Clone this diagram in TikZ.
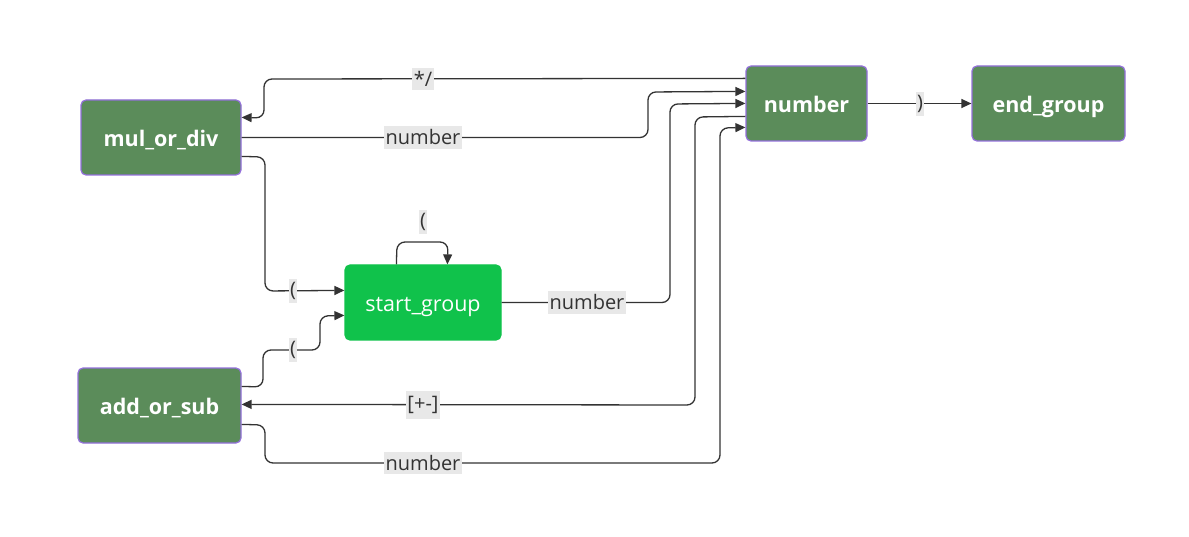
\documentclass[tikz,border=0pt]{standalone}
\usepackage{fontspec}
\setmainfont{Open Sans}
\usetikzlibrary{arrows.meta,calc}
\definecolor{nodefill}{HTML}{5B8C5A}
\definecolor{nodeborder}{HTML}{9370DB}
\definecolor{startfill}{HTML}{10C24B}
\definecolor{edgecol}{HTML}{333333}
\definecolor{labbg}{HTML}{E8E8E8}
\definecolor{labtext}{HTML}{333333}
\tikzset{
  box/.style={draw=nodeborder, line width=1.2pt, fill=nodefill, rounded corners=5pt,
    minimum height=75pt, inner sep=0pt, text=white, text height=22pt, text depth=4pt,
    font=\fontsize{21.5}{23}\selectfont\bfseries},
  startbox/.style={box, draw=startfill, fill=startfill, font=\fontsize{21.5}{23}\selectfont},
  edge/.style={draw=edgecol, line width=1.3pt, rounded corners=8pt, -{Triangle[length=10pt,width=9pt]}},
  lab/.style={fill=labbg, text=labtext, inner xsep=1.5pt, inner ysep=3.5pt, font=\fontsize{20}{22}\selectfont}
}
\begin{document}
\begin{tikzpicture}[x=1pt,y=-1pt]
\useasboundingbox (0,0) rectangle (1189,537);
\node[box, minimum width=160pt] (mul) at (161,137.5) {mul\_or\_div};
\node[box, minimum width=163pt] (add) at (159.5,405.5) {add\_or\_sub};
\node[startbox, minimum width=156pt] (start) at (423,302.5) {start\_group};
\node[box, minimum width=121pt] (num) at (806.5,103.5) {number};
\node[box, minimum width=153pt] (endg) at (1048.5,103.5) {end\_group};

% number -> mul_or_div  */
\draw[edge] ($(num.north west)+(0,13)$) -- (264,79) -- (264,118) -- ($(mul.north east)+(0,18)$);
% mul_or_div -> number
\draw[edge] (mul.east) -- (648,137.5) -- (648,92) -- ($(num.north west)+(0,26)$);
% mul_or_div -> start_group
\draw[edge] ($(mul.north east)+(0,57)$) -- (265,157) -- (265,291) -- ($(start.north west)+(0,26)$);
% self loop
\draw[edge] ($(start.north west)+(52,0)$) -- (397,242) -- (448,242) -- ($(start.north west)+(103,0)$);
% add_or_sub -> start_group
\draw[edge] ($(add.north east)+(0,19)$) -- (263,387) -- (263,350) -- (320,350) -- (320,316) -- ($(start.north west)+(0,51)$);
% start_group -> number
\draw[edge] (start.east) -- (670,302.5) -- (670,104) -- ($(num.north west)+(0,38)$);
% number -> add_or_sub
\draw[edge] ($(num.north west)+(0,51)$) -- (695,117) -- (695,405) -- ($(add.north east)+(0,37)$);
% add_or_sub -> number
\draw[edge] ($(add.north east)+(0,57)$) -- (265,425) -- (265,463) -- (720,463) -- (720,128) -- ($(num.north west)+(0,62)$);
% number -> end_group
\draw[edge] (num.east) -- (endg.west);

\node[lab] (l1) at (423,79) {*/};
\node[lab] (l2) at (423,137.5) {number};
\node[lab] (l3) at (293,291) {(};
\node[lab] (l4) at (423,222) {(};
\node[lab] (l5) at (293,350) {(};
\node[lab] (l6) at (587,302.5) {number};
\node[lab, inner ysep=5pt] (l7) at (423,405) {[+-]};
\node[lab] (l8) at (423,463) {number};
\node[lab] (l9) at (920,104) {)};
\end{tikzpicture}
\end{document}
